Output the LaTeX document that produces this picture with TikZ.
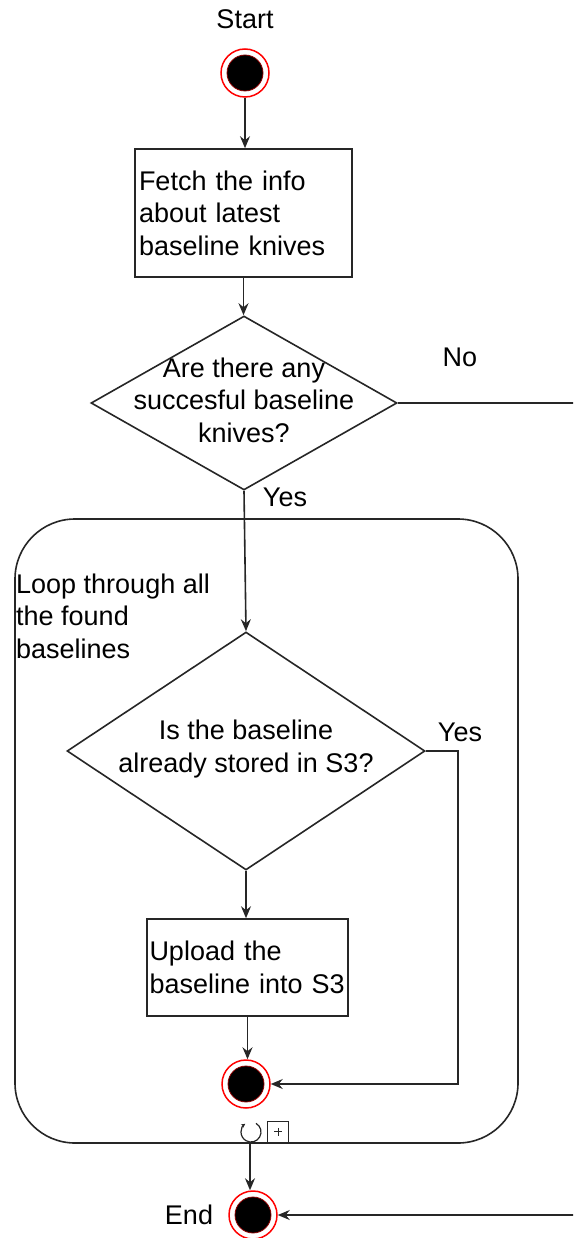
\documentclass[tikz,border=0pt]{standalone}
\usepackage{fontspec}
\setmainfont{Liberation Sans}
\usetikzlibrary{shapes.geometric,arrows.meta,calc}

\tikzset{
  ln/.style={draw=black!85, line width=1.6pt},
  arr/.style={ln, -{Stealth[length=12pt,width=10pt,inset=4pt]}},
  txt/.style={font=\fontsize{27}{32.5}\selectfont, inner sep=0pt, text=black},
  procbox/.style={ln, rectangle, fill=white, txt, align=left},
  decision/.style={ln, diamond, fill=white, inner sep=0pt},
  terminal/.style={circle, draw=red, line width=1.5pt, fill=white,
    minimum size=48pt, inner sep=0pt,
    path picture={\filldraw[fill=black, draw=red!55!black, line width=0.8pt]
      (path picture bounding box.center) circle (18pt);}},
}

\begin{document}
\begin{tikzpicture}[x=1pt, y=-1pt]
\useasboundingbox (0,0) rectangle (573,1238);
\begin{scope}
\clip (0,0) rectangle (573,1238);

% loop container
\node[ln, rectangle, rounded corners=60pt, minimum width=503pt,
      minimum height=624pt, inner sep=0pt] (loop) at (266.5,831) {};
\node[txt, anchor=west, align=left] (looptxt) at (16,616)
  {Loop through all\\the found\\baselines};

% start
\node[txt] (starttxt) at (245,19) {Start};
\node[terminal] (s) at (245,73) {};

% fetch step
\node[procbox, inner xsep=4pt, minimum height=128pt, text width=209pt] (fetch) at (243.5,213)
  {Fetch the info\\about latest\\baseline knives};

% first decision
\node[decision, minimum width=306pt, minimum height=174pt] (d1) at (244,403) {};
\node[txt, align=center] (q1) at (244,400)
  {Are there any\\succesful baseline\\knives?};

% second decision
\node[decision, minimum width=358pt, minimum height=238pt] (d2) at (246,751) {};
\node[txt, align=center] (q2) at (246,749)
  {Is the baseline\\already stored in S3?};

% upload step
\node[procbox, inner xsep=2.5pt, minimum height=97pt, text width=196pt] (upload) at (247.5,967.5)
  {Upload the\\baseline into~S3};

% inner end of loop body
\node[terminal] (e1) at (246,1084) {};

% end
\node[terminal] (endc) at (253,1215) {};
\node[txt] (endtxt) at (189,1215) {End};

% loop marker on the container's lower edge
\coordinate (lb) at (250,1143);
\draw[ln, line width=1.2pt, -{Stealth[length=4pt,width=4pt]}]
  (251,1132) ++(-60:10) arc (-60:235:10);
\node[ln, line width=1.2pt, rectangle, minimum width=21pt, minimum height=21pt,
      inner sep=0pt, anchor=south west, fill=white] (plusbox) at (267,1143) {};
\draw[ln, line width=0.9pt] ($(plusbox.center)+(-4,0)$) -- ($(plusbox.center)+(4,0)$)
  ($(plusbox.center)+(0,-4)$) -- ($(plusbox.center)+(0,4)$);

% connectors
\draw[arr] (s.south) -- (s.south |- fetch.north);
\draw[arr] (fetch.south) -- (fetch.south |- d1.north);
\draw[arr] (d1.south) -- (d2.north);
\draw[arr] (d2.south) -- (d2.south |- upload.north);
\draw[arr] (upload.south) -- (upload.south |- e1.north);
\draw[arr] (d2.east) -- ++(32,0) |- (e1.east);
\draw[arr] (d1.east) -- ++(240,0) |- (endc.east);
\draw[arr] (lb) -- (lb |- endc.north);

% branch labels
\node[txt] (no1) at (460,357) {No};
\node[txt] (yes1) at (285,497) {Yes};
\node[txt] (yes2) at (460,732) {Yes};
\end{scope}
\end{tikzpicture}
\end{document}
